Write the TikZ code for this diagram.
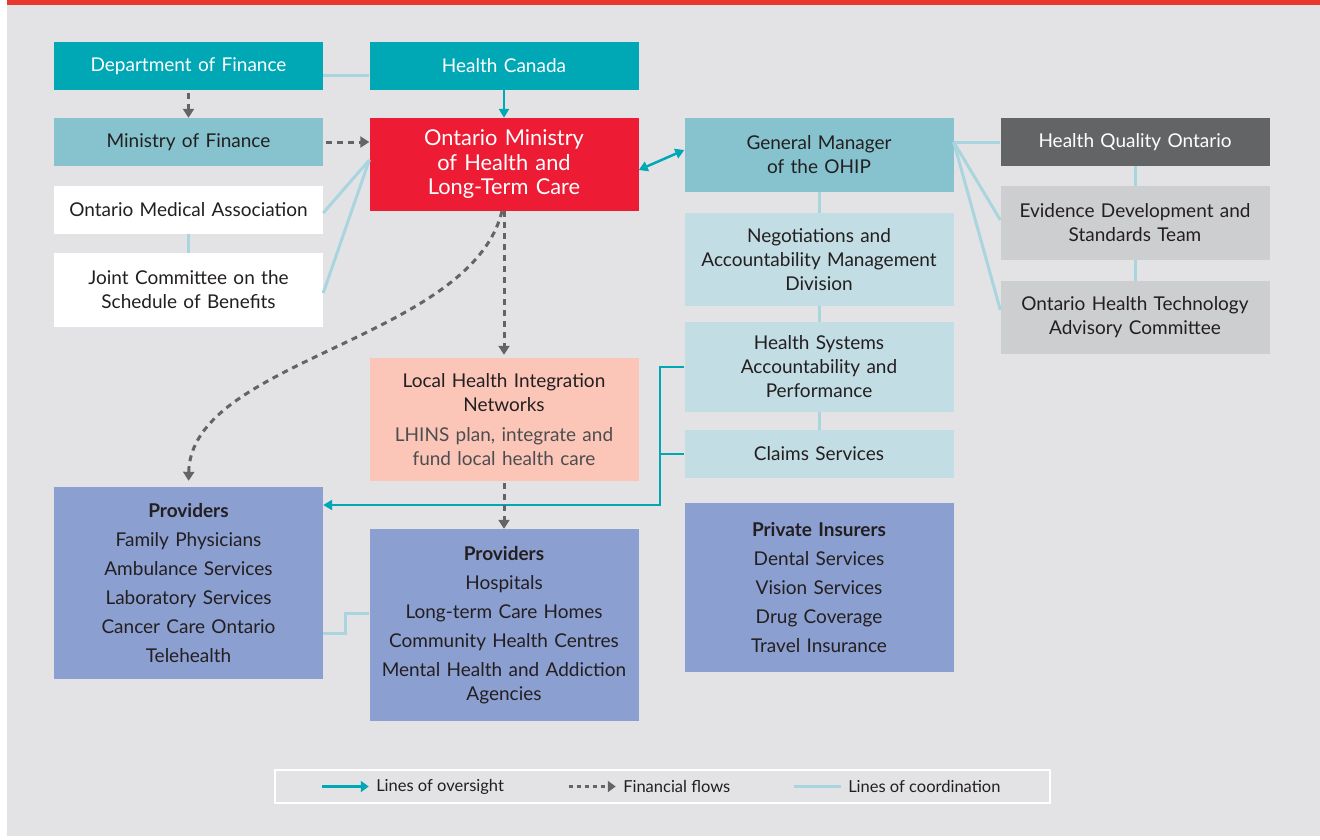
\documentclass[tikz,border=0pt]{standalone}
\usepackage{fontspec}
\setmainfont{Lato}
\usepackage{tikz}
\usetikzlibrary{arrows.meta,positioning}
\definecolor{tealx}{HTML}{00A7B5}
\definecolor{tealmid}{HTML}{86C3CF}
\definecolor{teallt}{HTML}{C2DDE3}
\definecolor{redx}{HTML}{ED1B33}
\definecolor{salmon}{HTML}{FBC6B8}
\definecolor{lilac}{HTML}{8C9FD1}
\definecolor{greydk}{HTML}{636466}
\definecolor{greylt}{HTML}{CDCED0}
\definecolor{softbg}{HTML}{E3E3E6}
\definecolor{coordx}{HTML}{A9D5DE}
\definecolor{inkx}{HTML}{231F20}
\definecolor{subx}{HTML}{4D4D4F}
\definecolor{topred}{HTML}{E8372E}
\tikzset{
  box/.style={minimum width=269pt,text width=264pt,align=center,inner sep=0pt,
    font=\fontsize{19}{24}\selectfont,text=inkx},
  over/.style={-{Triangle[length=9pt,width=10pt]},line width=2.5pt,tealx},
  fin/.style={-{Triangle[length=9pt,width=11pt]},line width=3pt,greydk,dash pattern=on 6pt off 5pt},
  co/.style={line width=3pt,coordx},
  keytext/.style={anchor=west,inner sep=0pt,xshift=6pt,font=\fontsize{16.5}{18}\selectfont,text=inkx}
}

\begin{document}
\begin{tikzpicture}[x=1pt,y=-1pt]
\useasboundingbox (0,0) rectangle (1320,839);
\fill[softbg] (7,5) rectangle (1320,836);
\fill[topred] (7,0) rectangle (1320,5);

% top row and left column
\node[box,fill=tealx,text=white,minimum height=48pt] (dof) at (188.5,66) {Department of Finance};
\node[box,fill=tealx,text=white,minimum height=48pt] (hc) at (504,66) {Health Canada};
\node[box,fill=tealmid,minimum height=48pt] (mof) at (188.5,142) {Ministry of Finance};
\node[box,fill=redx,text=white,minimum height=93pt,font=\fontsize{21.8}{24.5}\selectfont] (omoh) at (504,164.5) {Ontario Ministry\\of Health and\\Long-Term Care};
\node[box,fill=white,minimum height=48pt] (oma) at (188.5,210) {Ontario Medical Association};
\node[box,fill=white,minimum height=74pt] (jc) at (188.5,290) {Joint Committee on the\\Schedule of Benefits};

% OHIP column
\node[box,fill=tealmid,minimum height=74pt] (gm) at (819,155) {General Manager\\of the OHIP};
\node[box,fill=teallt,minimum height=93pt] (nam) at (819,259.5) {Negotiations and\\Accountability Management\\Division};
\node[box,fill=teallt,minimum height=90pt] (hsap) at (819,367) {Health Systems\\Accountability and\\Performance};
\node[box,fill=teallt,minimum height=48pt] (cs) at (819,454) {Claims Services};

% quality column
\node[box,fill=greydk,text=white,minimum height=48pt] (hqo) at (1135,142) {Health Quality Ontario};
\node[box,fill=greylt,minimum height=74pt] (eds) at (1135,223) {Evidence Development and\\Standards Team};
\node[box,fill=greylt,minimum height=73pt] (ohtac) at (1135,317.5) {Ontario Health Technology\\Advisory Committee};

% LHINs and providers
\node[box,fill=salmon,minimum height=123pt] (lhin) at (504,419.5) {Local Health Integration\\Networks\\[6pt]{\color{subx}LHINS plan, integrate and\\fund local health care}};
\node[box,fill=lilac,minimum height=192pt] (provl) at (188.5,583) {\textbf{Providers}\\[5pt]Family Physicians\\[5pt]Ambulance Services\\[5pt]Laboratory Services\\[5pt]Cancer Care Ontario\\[5pt]Telehealth};
\node[box,fill=lilac,minimum height=192pt] (provm) at (504,625) {\textbf{Providers}\\[5pt]Hospitals\\[5pt]Long-term Care Homes\\[5pt]Community Health Centres\\[5pt]Mental Health and Addiction\\Agencies};
\node[box,fill=lilac,minimum height=169pt] (priv) at (819,587.5) {\textbf{Private Insurers}\\[5pt]Dental Services\\[5pt]Vision Services\\[5pt]Drug Coverage\\[5pt]Travel Insurance\\[3pt]};

% coordination
\draw[co] ([yshift=-9pt]dof.east) -- ([yshift=-9pt]hc.west);
\draw[co] ([yshift=4.5pt]omoh.west) -- ([yshift=-3pt]oma.east);
\draw[co] ([yshift=4.5pt]omoh.west) -- ([yshift=-3pt]jc.east);
\draw[co] (oma.south) -- (jc.north);
\draw[co] ([yshift=13pt]gm.east) -- (hqo.west);
\draw[co] ([yshift=13pt]gm.east) -- ([yshift=3pt]eds.west);
\draw[co] ([yshift=13pt]gm.east) -- ([yshift=7.5pt]ohtac.west);
\draw[co] (hqo.south) -- (eds.north);
\draw[co] (eds.south) -- (ohtac.north);
\draw[co] (gm.south) -- (nam.north);
\draw[co] (nam.south) -- (hsap.north);
\draw[co] (hsap.south) -- (cs.north);
\draw[co] ([yshift=-50pt]provl.east) -- ++(22,0) |- ([yshift=12pt]provm.west);

% oversight
\coordinate (ov) at (660,505);
\draw[over] (hc.south) -- (omoh.north);
\draw[over,{Triangle[length=9pt,width=10pt]}-{Triangle[length=9pt,width=10pt]}] ([yshift=-5.5pt]omoh.east) -- ([yshift=5pt]gm.west);
\draw[over] (hsap.west) -| (ov) -- (provl.east |- ov);
\draw[over,-] (cs.west) -- (cs.west -| ov);

% financial flows
\draw[fin,shorten <=3pt] (dof.south) -- (mof.north);
\draw[fin,shorten <=3pt] (mof.east) -- (omoh.west |- mof.east);
\draw[fin,shorten >=3pt] (omoh.south) -- (lhin.north);
\draw[fin,shorten <=2pt] (lhin.south) -- (provm.north);
\draw[fin,shorten >=6pt] ([xshift=-2pt]omoh.south) .. controls +(-32,129) and +(2,-127) .. (provl.north);

% key
\node[draw=white,line width=2.5pt,minimum width=775pt,minimum height=33pt,inner sep=0pt] (key) at (662.5,786.5) {};
\draw[over,line width=3pt,-{Triangle[length=8pt,width=11pt]}] ([xshift=48pt]key.west) -- ++(47,0) node[keytext] {Lines of oversight};
\draw[fin,dash pattern=on 4pt off 4pt,-{Triangle[length=8pt,width=11pt]}] ([xshift=295pt]key.west) -- ++(47,0) node[keytext] {Financial flows};
\draw[co] ([xshift=520pt]key.west) -- ++(47,0) node[keytext] {Lines of coordination};
\end{tikzpicture}
\end{document}
